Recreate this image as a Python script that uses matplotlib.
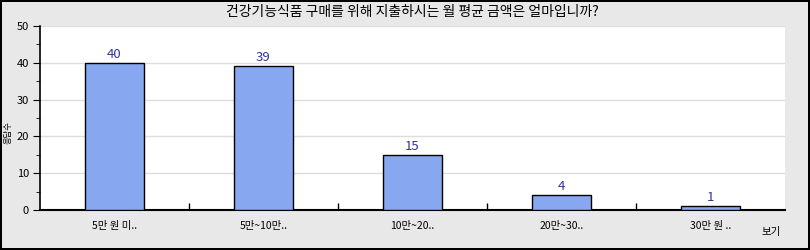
import matplotlib
matplotlib.use("Agg")
import matplotlib.pyplot as plt
from matplotlib.ticker import MultipleLocator

plt.rcParams['font.family'] = ['Noto Sans CJK KR', 'DejaVu Sans']

categories = ['5만 원 미..', '5만~10만..', '10만~20..', '20만~30..', '30만 원 ..']
values = [40, 39, 15, 4, 1]
title = '건강기능식품 구매를 위해 지출하시는 월 평균 금액은 얼마입니까?'

fig = plt.figure(figsize=(8.1, 2.5), dpi=100)
fig.patch.set_facecolor('#e8e8e8')
fig.patch.set_edgecolor('black')
fig.patch.set_linewidth(1.5)

ax = fig.add_axes([40/810, 40/250, 745/810, 184/250])
ax.set_facecolor('white')
x = list(range(len(categories)))
bars = ax.bar(x, values, width=0.4, color='#87a7f0', edgecolor='black', linewidth=1, zorder=3)
for xi, v in zip(x, values):
    ax.text(xi, v + 0.6, str(v), ha='center', va='bottom', color='#333399', fontsize=9.5, zorder=4)

ax.set_xlim(-0.5, len(categories) - 0.5)
ax.set_ylim(0, 50)
ax.yaxis.set_major_locator(MultipleLocator(10))
ax.yaxis.set_minor_locator(MultipleLocator(5))
ax.grid(axis='y', which='major', color='#dddddd', linewidth=1, zorder=0)
for s in ['top', 'right']:
    ax.spines[s].set_visible(False)
ax.spines['left'].set_linewidth(1.2)
ax.spines['bottom'].set_linewidth(1.5)

ax.set_xticks(x)
ax.set_xticklabels(categories, fontsize=7.5)
ax.tick_params(axis='x', which='major', length=0, pad=8)
ax.set_xticks([i + 0.5 for i in x[:-1]], minor=True)
ax.tick_params(axis='x', which='minor', direction='in', length=5, width=1)
ax.tick_params(axis='y', which='major', length=5, labelsize=8, direction='out', pad=3)
ax.tick_params(axis='y', which='minor', length=3, direction='out')

ax.set_title(title, fontsize=10, pad=7)
fig.text(8/810, 117/250, '응답수', rotation=90, fontsize=6, ha='center', va='center')
fig.text(771/810, 18/250, '보기', fontsize=7.5, ha='center', va='center')

fig.savefig('out.png', dpi=100, facecolor=fig.get_facecolor(), edgecolor=fig.get_edgecolor())
